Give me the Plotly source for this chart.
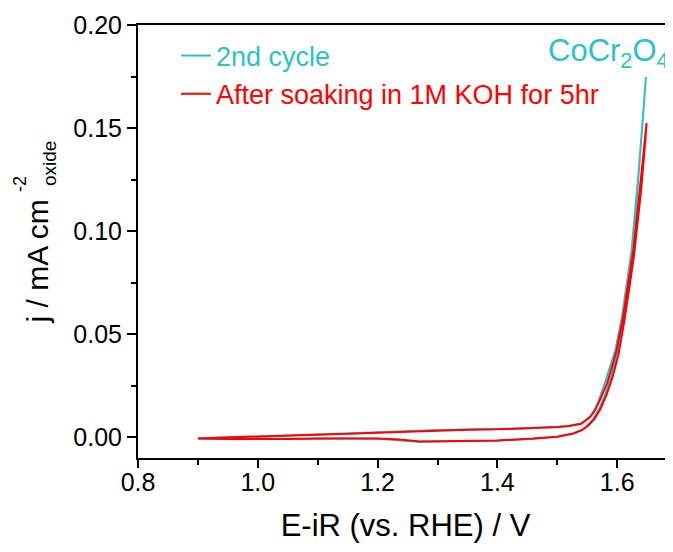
import plotly.graph_objects as go

# ---------------- data ----------------
cycle2_fwd_v = [0.900, 0.950, 1.000, 1.050, 1.100, 1.150, 1.200, 1.250, 1.300, 1.350,
                1.400, 1.450, 1.500, 1.520, 1.540, 1.555, 1.563, 1.570, 1.580, 1.590,
                1.597, 1.608, 1.616, 1.624, 1.636, 1.648]
cycle2_fwd_j = [-0.0004, 0.0000, 0.0004, 0.0009, 0.0014, 0.0019, 0.0025, 0.0031, 0.0036, 0.0038,
                0.0040, 0.0044, 0.0050, 0.0056, 0.0068, 0.0100, 0.0135, 0.0185, 0.0270, 0.0360,
                0.0425, 0.0585, 0.0746, 0.0908, 0.1296, 0.1748]
cycle2_rev_v = [1.645, 1.636, 1.626, 1.618, 1.610, 1.600, 1.590, 1.580, 1.570, 1.560,
                1.550, 1.540, 1.525, 1.500, 1.460, 1.400, 1.350, 1.300, 1.270, 1.250,
                1.230, 1.200, 1.150, 1.100, 1.050, 1.000, 0.950, 0.900]
cycle2_rev_j = [0.1620, 0.1270, 0.0900, 0.0740, 0.0580, 0.0410, 0.0300, 0.0210, 0.0140, 0.0090,
                0.0058, 0.0035, 0.0018, 0.0003, -0.0007, -0.0016, -0.0019, -0.0020, -0.0021, -0.0017,
                -0.0012, -0.0007, -0.0005, -0.0006, -0.0008, -0.0010, -0.0008, -0.0005]

soak_fwd_v = [0.900, 0.950, 1.000, 1.050, 1.100, 1.150, 1.200, 1.250, 1.300, 1.350,
              1.400, 1.450, 1.500, 1.520, 1.540, 1.555, 1.563, 1.571, 1.583, 1.592,
              1.599, 1.610, 1.619, 1.627, 1.641, 1.649]
soak_fwd_j = [-0.0005, -0.0001, 0.0003, 0.0008, 0.0014, 0.0018, 0.0023, 0.0028, 0.0034, 0.0037,
              0.0039, 0.0044, 0.0050, 0.0055, 0.0066, 0.0100, 0.0132, 0.0181, 0.0262, 0.0350,
              0.0423, 0.0585, 0.0746, 0.0908, 0.1296, 0.1524]
soak_rev_v = [1.647, 1.640, 1.628, 1.620, 1.612, 1.602, 1.592, 1.582, 1.572, 1.562,
              1.552, 1.542, 1.527, 1.500, 1.460, 1.400, 1.350, 1.300, 1.270, 1.245,
              1.230, 1.200, 1.150, 1.100, 1.050, 1.000, 0.950, 0.900]
soak_rev_j = [0.1440, 0.1200, 0.0880, 0.0720, 0.0565, 0.0400, 0.0290, 0.0205, 0.0138, 0.0090,
              0.0058, 0.0036, 0.0019, 0.0003, -0.0006, -0.0015, -0.0018, -0.0020, -0.0020, -0.0013,
              -0.0009, -0.0006, -0.0004, -0.0005, -0.0008, -0.0009, -0.0008, -0.0005]

series_names = ["2nd cycle", "After soaking in 1M KOH for 5hr"]
sample_label = "CoCr<sub>2</sub>O<sub>4</sub>"
x_title = "E-iR (vs. RHE) / V"
y_title_main = "j / mA cm"
y_title_sup = "-2"
y_title_sub = "oxide"

# ---------------- styling ----------------
TEAL = "#2EBFC8"
RED = "#FF0000"
FONT = "Liberation Sans, Arial, sans-serif"

OFF = 8                     # page body margin of the html page
W, H = 673 - OFF, 552 - OFF
ML, MR, MT, MB = 130, 0, 17, 94
PW = W - ML - MR
PH = H - MT - MB


def px_to_paper_x(px):      # px measured in the browser window
    return (px - OFF - ML) / PW


def px_to_paper_y(py):
    return (H - MB - (py - OFF)) / PH


fig = go.Figure()
fig.add_trace(go.Scatter(
    x=cycle2_fwd_v + cycle2_rev_v, y=cycle2_fwd_j + cycle2_rev_j,
    mode="lines", line=dict(color=TEAL, width=2),
    name=f"<span style='color:{TEAL}'>{series_names[0]}</span>"))
fig.add_trace(go.Scatter(
    x=soak_fwd_v + soak_rev_v, y=soak_fwd_j + soak_rev_j,
    mode="lines", line=dict(color=RED, width=2),
    name=f"<span style='color:{RED}'>{series_names[1]}</span>"))

axis_common = dict(
    showline=True, linecolor="black", linewidth=2,
    ticks="outside", tickcolor="black", tickwidth=2,
    showgrid=False, zeroline=False,
    tickfont=dict(family=FONT, size=25, color="black"),
)

fig.update_layout(
    width=W, height=H,
    margin=dict(l=ML, r=MR, t=MT, b=MB, autoexpand=False),
    paper_bgcolor="white", plot_bgcolor="white",
    font=dict(family=FONT, color="black"),
    showlegend=True,
    legend=dict(
        x=px_to_paper_x(176), y=px_to_paper_y(31.5), xanchor="left", yanchor="top",
        bgcolor="rgba(0,0,0,0)", font=dict(family=FONT, size=27),
        tracegroupgap=0,
    ),
    xaxis=dict(
        axis_common, range=[0.8, 0.8 + PW / 599.0], mirror=True,
        tick0=0.8, dtick=0.2, tickformat=".1f", ticklen=8, ticklabelstandoff=-7,
        minor=dict(dtick=0.1, tick0=0.8, ticks="outside", ticklen=5,
                   tickwidth=2, tickcolor="black", showgrid=False),
        title=dict(text=x_title, font=dict(family=FONT, size=31), standoff=19),
    ),
    yaxis=dict(
        axis_common, range=[-0.0100, 0.20],
        tick0=0, dtick=0.05, tickformat=".2f", ticklen=9,
        minor=dict(dtick=0.025, tick0=0, ticks="outside", ticklen=5,
                   tickwidth=2, tickcolor="black", showgrid=False),
    ),
)

annos = [
    dict(text=y_title_main, x=px_to_paper_x(37), y=px_to_paper_y(261.5), textangle=-90,
         font=dict(family=FONT, size=30, color="black")),
    dict(text=y_title_sup, x=px_to_paper_x(19.5), y=px_to_paper_y(184.5), textangle=-90,
         font=dict(family=FONT, size=18, color="black")),
    dict(text=y_title_sub, x=px_to_paper_x(49), y=px_to_paper_y(164), textangle=-90,
         font=dict(family=FONT, size=19, color="black")),
    dict(text=sample_label, x=px_to_paper_x(546), y=px_to_paper_y(53),
         font=dict(family=FONT, size=31, color=TEAL)),
]
for a in annos:
    a.update(xref="paper", yref="paper", showarrow=False)
    a.setdefault("xanchor", "center")
    a.setdefault("yanchor", "middle")
    fig.add_annotation(**a)
fig.layout.annotations[-1].xanchor = "left"

fig.write_html("out.html")
